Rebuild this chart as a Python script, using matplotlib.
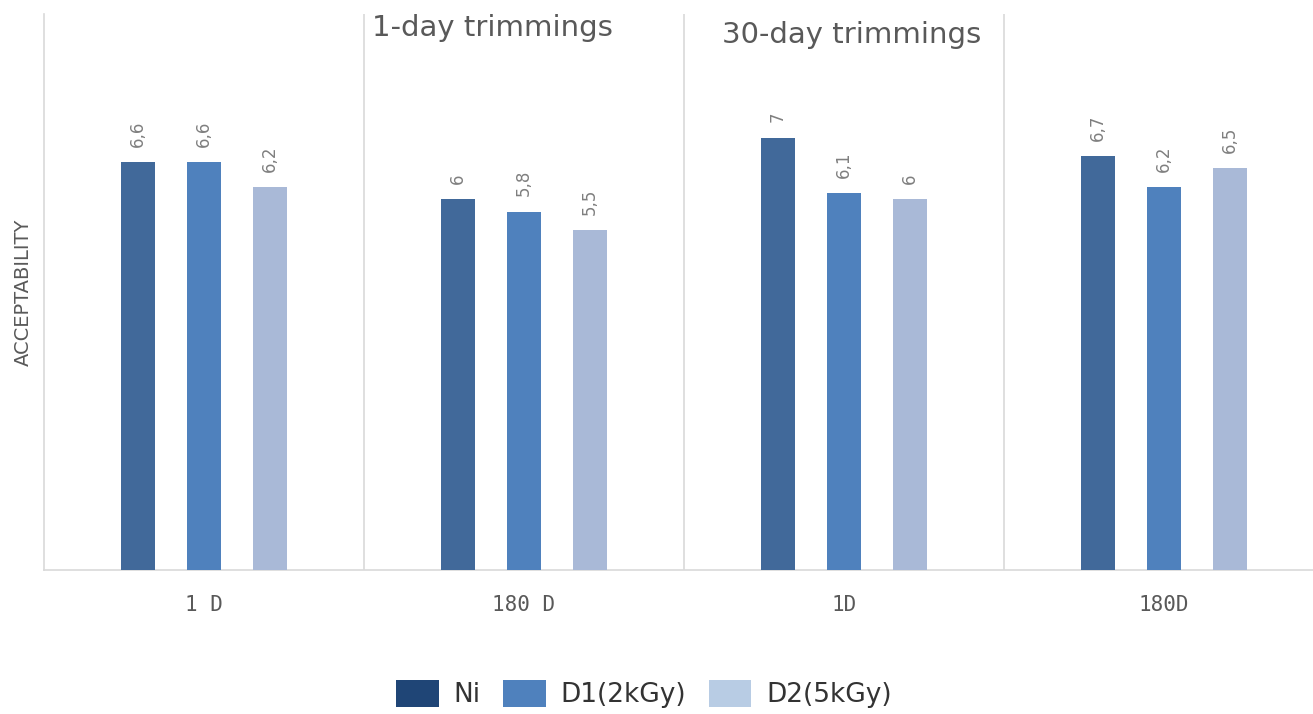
import matplotlib
matplotlib.use('Agg')
import matplotlib.pyplot as plt
import numpy as np
from matplotlib.patches import Patch

# datos
categories = ["1 D", "180 D", "1D", "180D"]
series = ["Ni", "D1(2kGy)", "D2(5kGy)"]
ni_vals = [6.6, 6.0, 7.0, 6.7]
d1_vals = [6.6, 5.8, 6.1, 6.2]
d2_vals = [6.2, 5.5, 6.0, 6.5]
bar_labels = [
    ["6,6", "6", "7", "6,7"],
    ["6,6", "5,8", "6,1", "6,2"],
    ["6,2", "5,5", "6", "6,5"],
]
group_titles = ["1-day trimmings", "30-day trimmings"]

bar_colors = ["#41699A", "#4F81BD", "#A9B9D7"]
legend_colors = ["#1F4576", "#4F81BD", "#B8CCE4"]

W, H = 1313, 714
fig = plt.figure(figsize=(W / 100, H / 100), dpi=100)
ax = fig.add_axes([44 / W, 1 - 570 / H, 1280 / W, 556 / H])

x = np.arange(len(categories))
offset = 0.206
width = 0.106
for i, vals in enumerate([ni_vals, d1_vals, d2_vals]):
    xs = x + (i - 1) * offset
    ax.bar(xs, vals, width=width, color=bar_colors[i], edgecolor="none", zorder=3)
    for xx, v, lab in zip(xs, vals, bar_labels[i]):
        ax.annotate(lab, (xx, v), xytext=(0, 11), textcoords="offset points",
                    rotation=90, ha="center", va="bottom",
                    fontsize=12, color="#7F7F7F")

ax.set_xlim(-0.5, 3.5)
ax.set_ylim(0, 9)

# separadores verticales entre grupos
for b in [0.5, 1.5, 2.5]:
    ax.axvline(b, color="#D9D9D9", lw=1.2, zorder=1)

for s in ["top", "right"]:
    ax.spines[s].set_visible(False)
ax.spines["left"].set_color("#D9D9D9")
ax.spines["left"].set_linewidth(1.2)
ax.spines["bottom"].set_color("#D9D9D9")
ax.spines["bottom"].set_linewidth(1.2)

ax.set_yticks([])
ax.set_xticks(x)
ax.set_xticklabels(categories, fontsize=15, color="#595959",
                   family="DejaVu Sans Mono")
ax.tick_params(axis="x", length=0, pad=18)

ax.set_ylabel("ACCEPTABILITY", fontsize=14, color="#595959", labelpad=8)

fig.text(372 / W, 1 - 36 / H, group_titles[0], fontsize=21, color="#595959")
fig.text(722 / W, 1 - 43 / H, group_titles[1], fontsize=21, color="#595959")

handles = [Patch(facecolor=c, edgecolor="none") for c in legend_colors]
fig.legend(handles, series, loc="center", bbox_to_anchor=(644 / W, 1 - 694 / H),
           ncol=3, frameon=False, fontsize=19, handlelength=1.6,
           handleheight=1.25, handletextpad=0.57, columnspacing=0.85,
           labelcolor="#333333")

fig.savefig("out.png", dpi=100)
